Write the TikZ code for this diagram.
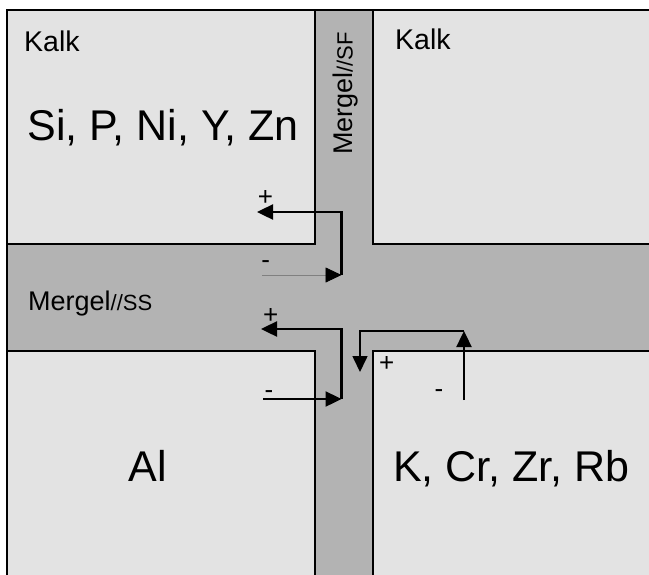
\documentclass[tikz,border=0pt]{standalone}
\usepackage{fontspec}
\setmainfont{Liberation Sans}
\usetikzlibrary{arrows.meta}
\definecolor{rockfill}{HTML}{E3E3E3}
\definecolor{marlfill}{HTML}{B3B3B3}
\newcommand\bandsuffix[1]{{\fontsize{22}{26}\selectfont #1}}
\begin{document}
\begin{tikzpicture}[x=1pt,y=-1pt,
  block/.style={draw=black, line width=1.5pt, fill=rockfill},
  flow/.style={draw=black, line width=2.4pt, -{Triangle[length=16pt,width=15pt]}},
  weakflow/.style={draw=gray, line width=0.8pt, -{Triangle[length=16pt,width=15pt,color=black]}},
  lbl/.style={inner sep=0pt, font=\fontsize{27}{32}\selectfont},
  rocklbl/.style={inner sep=0pt, font=\fontsize{28.5}{34}\selectfont},
  big/.style={inner sep=0pt, font=\fontsize{43}{50}\selectfont},
  sign/.style={inner sep=0pt, anchor=base, font=\fontsize{26}{30}\selectfont}]

\useasboundingbox (0,0) rectangle (649,574);
\clip (0,0) rectangle (649,574);

% marl background (the two marl bands)
\fill[marlfill] (7,10) rectangle (700,650);

% limestone blocks
\draw[block] (7,10) rectangle (315,244);
\draw[block] (373,10) rectangle (700,244);
\draw[block] (7,351) rectangle (315,650);
\draw[block] (373,351) rectangle (700,650);

% outer frame edges
\draw[line width=2.5pt] (7,650) -- (7,10) -- (700,10);

% labels
\node[rocklbl, anchor=base west] (kalkA) at (24,51) {Kalk};
\node[rocklbl, anchor=base west] (kalkB) at (395,49.5) {Kalk};
\node[big, anchor=base] (siP) at (163,140) {Si, P, Ni, Y, Zn};
\node[big, anchor=base] (al) at (147.5,481) {Al};
\node[big, anchor=base] (kCr) at (511.5,481) {K, Cr, Zr, Rb};
\node[lbl, anchor=base west] (mergSS) at (28,310) {Mergel\bandsuffix{//SS}};
\node[lbl, anchor=base west, rotate=90] (mergSF) at (352.5,155) {Mergel\bandsuffix{//SF}};

% flow arrows
\coordinate (inA) at (262,275);
\coordinate (cornA) at (341.5,275);
\coordinate (outA) at (257,212);
\draw[weakflow] (inA) -- (cornA);
\draw[flow] (cornA) |- (outA);

\coordinate (inB) at (263,399);
\coordinate (cornB) at (341.5,399);
\coordinate (outB) at (261,329);
\draw[flow] (inB) -- (cornB);
\draw[flow] (cornB) |- (outB);

\coordinate (inC) at (464,400);
\coordinate (topC) at (464,331);
\coordinate (outC) at (360,372);
\draw[flow] (inC) -- (topC);
\draw[flow, line width=1.6pt] (topC) -| (outC);

% signs
\node[sign] (plusA) at (265.5,205.5) {+};
\node[sign] (minusA) at (265.7,268) {-};
\node[sign] (plusB) at (270.7,323.8) {+};
\node[sign] (minusB) at (269,398) {-};
\node[sign] (plusC) at (386.7,371.5) {+};
\node[sign] (minusC) at (439,397.6) {-};
\end{tikzpicture}
\end{document}
